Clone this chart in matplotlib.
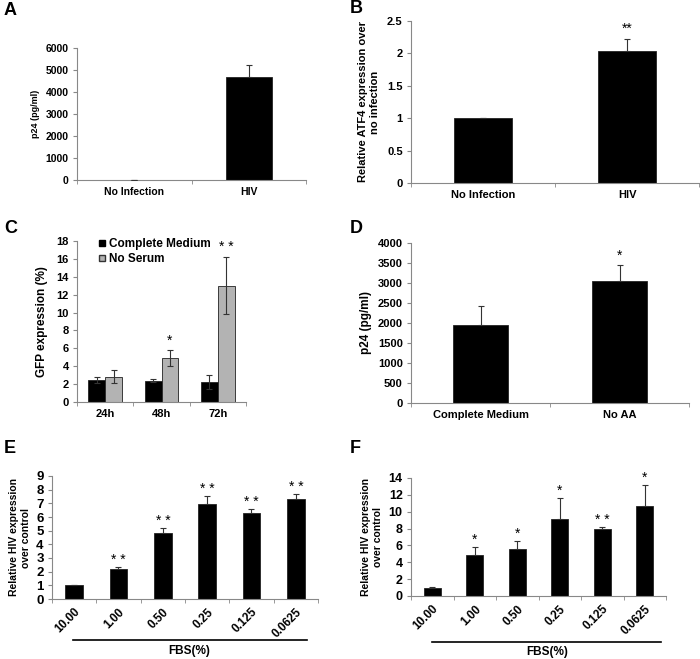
import matplotlib.pyplot as plt
import matplotlib.transforms as mtransforms
from matplotlib.ticker import FormatStrFormatter
import numpy as np

plt.rcParams["font.family"] = ["Liberation Sans", "DejaVu Sans"]
plt.rcParams["font.weight"] = "bold"

# panel A
a_labels = ["No Infection", "HIV"]
a_vals = [0, 4700]
a_err = [0, 550]
# panel B
b_labels = ["No Infection", "HIV"]
b_vals = [1.0, 2.03]
b_err = [0, 0.19]
b_stars = ["", "**"]
# panel C
c_labels = ["24h", "48h", "72h"]
c_complete = [2.5, 2.4, 2.2]
c_complete_err = [0.35, 0.15, 0.8]
c_noserum = [2.85, 4.9, 13.0]
c_noserum_err = [0.7, 0.9, 3.2]
c_stars = ["", "*", "* *"]
# panel D
d_labels = ["Complete Medium", "No AA"]
d_vals = [1950, 3050]
d_err = [480, 400]
d_stars = ["", "*"]
# panel E / F
fbs_labels = ["10.00", "1.00", "0.50", "0.25", "0.125", "0.0625"]
e_vals = [1.0, 2.2, 4.8, 6.95, 6.3, 7.3]
e_err = [0, 0.15, 0.4, 0.6, 0.3, 0.35]
e_stars = ["", "* *", "* *", "* *", "* *", "* *"]
f_vals = [1.0, 4.9, 5.6, 9.1, 8.0, 10.7]
f_err = [0.05, 0.9, 0.95, 2.55, 0.2, 2.5]
f_stars = ["", "*", "*", "*", "* *", "*"]

W, H = 700, 659
fig = plt.figure(figsize=(W / 100, H / 100), dpi=100)


def box(x0, y0, x1, y1):
    return fig.add_axes([x0 / W, 1 - y1 / H, (x1 - x0) / W, (y1 - y0) / H])


def style(ax, labels, ymax, ystep, fs=8, yfs=None, rot=0):
    n = len(labels)
    ax.set_xlim(-0.5, n - 0.5)
    ax.set_ylim(0, ymax)
    ax.set_yticks(np.arange(0, ymax + ystep / 2, ystep))
    ax.yaxis.set_major_formatter(FormatStrFormatter("%g"))
    for s in ["top", "right"]:
        ax.spines[s].set_visible(False)
    for s in ["left", "bottom"]:
        ax.spines[s].set_color("#888888")
        ax.spines[s].set_linewidth(0.8)
    ax.set_xticks(np.arange(n))
    if rot:
        ax.set_xticklabels(labels, fontsize=fs, fontweight="bold", rotation=rot,
                           ha="right", rotation_mode="anchor")
    else:
        ax.set_xticklabels(labels, fontsize=fs, fontweight="bold")
    ax.set_xticks(np.arange(-0.5, n, 1.0), minor=True)
    ax.tick_params(axis="x", which="major", length=0, pad=5)
    ax.tick_params(axis="x", which="minor", length=3, color="#888888", direction="out")
    ax.tick_params(axis="y", length=3, color="#888888", labelsize=yfs or fs, pad=3)
    for t in ax.get_yticklabels():
        t.set_fontweight("bold")


def bars(ax, x, vals, err, width=0.4, color="black", both=False, stars=None, off=0.0):
    ax.bar(x, vals, width=width, color=color, edgecolor="#222222", linewidth=0.6, zorder=2)
    lower = err if both else [0] * len(err)
    ax.errorbar(x, vals, yerr=[lower, err], fmt="none", ecolor="#333333",
                elinewidth=0.8, capsize=2.5, capthick=0.8, zorder=3)
    if stars:
        for xi, v, e, s in zip(x, vals, err, stars):
            if s:
                ax.text(xi, v + e + off, s, ha="center", va="bottom",
                        fontsize=10, fontweight="normal")


# A
ax = box(77, 48, 306, 180)
style(ax, a_labels, 6000, 1000, fs=7.5)
bars(ax, np.arange(2), a_vals, a_err)
ax.set_ylabel("p24 (pg/ml)", fontsize=6.5, fontweight="bold", labelpad=4)

# B
ax = box(411, 21, 699, 183)
style(ax, b_labels, 2.5, 0.5, fs=8)
bars(ax, np.arange(2), b_vals, b_err, stars=b_stars, off=0.05)
ax.set_ylabel("Relative ATF4 expression over\nno infection", fontsize=8,
              fontweight="bold", labelpad=5)

# C
ax = box(77, 241, 246, 402)
style(ax, c_labels, 18, 2, fs=8)
x = np.arange(3)
bars(ax, x - 0.15, c_complete, c_complete_err, width=0.3, both=True)
bars(ax, x + 0.15, c_noserum, c_noserum_err, width=0.3, color="#b3b3b3", both=True,
     stars=c_stars, off=0.3)
ax.set_ylabel("GFP expression (%)", fontsize=8.5, fontweight="bold", labelpad=6)
h1 = plt.Line2D([], [], marker="s", color="black", ls="none", markersize=5)
h2 = plt.Line2D([], [], marker="s", color="#b3b3b3", markeredgecolor="#333333",
                ls="none", markersize=5)
ax.legend([h1, h2], ["Complete Medium", "No Serum"], loc="upper left",
          bbox_to_anchor=(0.08, 1.05), frameon=False, handletextpad=0.0,
          handlelength=1.2, borderaxespad=0, labelspacing=0.3,
          prop={"size": 8.5, "weight": "bold"})

# D
ax = box(411, 243, 689, 403)
style(ax, d_labels, 4000, 500, fs=8)
bars(ax, np.arange(2), d_vals, d_err, stars=d_stars, off=60)
ax.set_ylabel("p24 (pg/ml)", fontsize=8.5, fontweight="bold", labelpad=4)

# E
ax = box(52, 476, 318, 599)
style(ax, fbs_labels, 9, 1, fs=8.5, yfs=9.5, rot=45)
bars(ax, np.arange(6), e_vals, e_err, stars=e_stars, off=0.0)
ax.set_ylabel("Relative HIV expression\nover control", fontsize=7.5,
              fontweight="bold", labelpad=4)
tr = mtransforms.blended_transform_factory(ax.transData, ax.transAxes)
ax.plot([-0.03, 5.25], [-0.333, -0.333], color="black", lw=1.2, transform=tr, clip_on=False)
ax.text(2.6, -0.423, "FBS(%)", transform=tr, ha="center", va="center", fontsize=8.5,
        fontweight="bold")

# F
ax = box(411, 478, 666, 596)
style(ax, fbs_labels, 14, 2, fs=8.5, yfs=9, rot=45)
bars(ax, np.arange(6), f_vals, f_err, stars=f_stars, off=0.0)
ax.set_ylabel("Relative HIV expression\nover control", fontsize=7.5,
              fontweight="bold", labelpad=4)
tr = mtransforms.blended_transform_factory(ax.transData, ax.transAxes)
ax.plot([-0.006, 5.38], [-0.39, -0.39], color="black", lw=1.2, transform=tr, clip_on=False)
ax.text(2.7, -0.475, "FBS(%)", transform=tr, ha="center", va="center", fontsize=8.5,
        fontweight="bold")

# panel letters
for letter, px, py in [("A", 4, 2), ("B", 350, 0), ("C", 4, 220), ("D", 350, 220),
                       ("E", 4, 440), ("F", 350, 440)]:
    fig.text(px / W, 1 - py / H, letter, ha="left", va="top", fontsize=13,
             fontweight="bold")

fig.savefig("out.png", dpi=100)
